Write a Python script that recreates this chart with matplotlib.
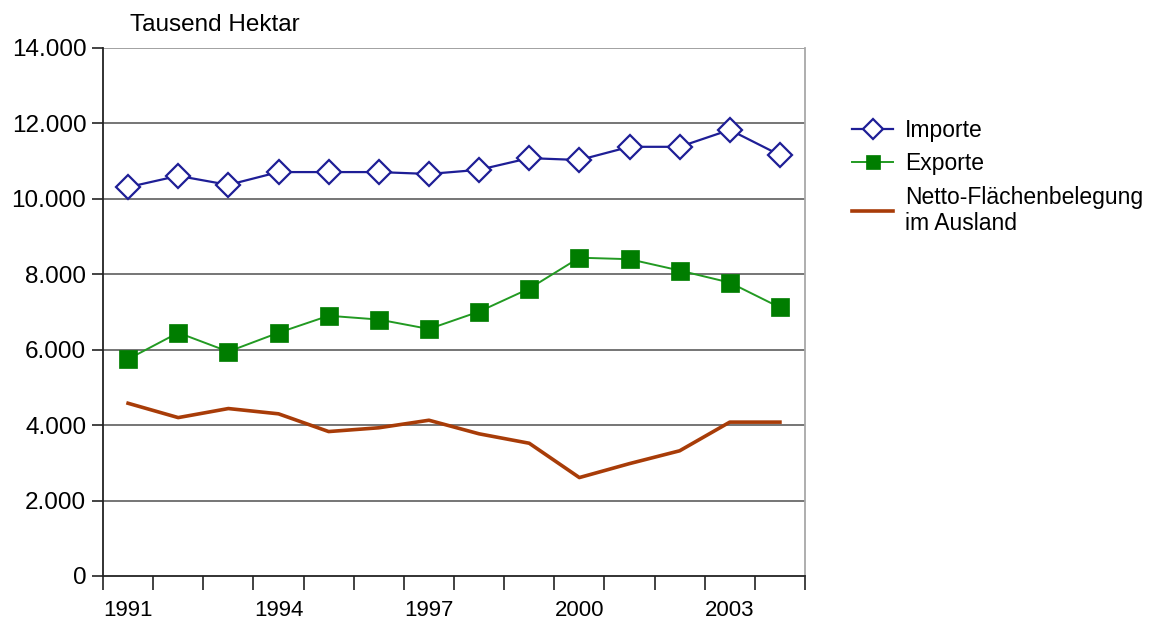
import matplotlib
matplotlib.use("Agg")
import matplotlib.pyplot as plt
import numpy as np

plt.rcParams['font.family'] = ['Liberation Sans', 'DejaVu Sans']

years = [1991, 1992, 1993, 1994, 1995, 1996, 1997, 1998, 1999, 2000, 2001, 2002, 2003, 2004]
importe = [10310, 10610, 10370, 10710, 10710, 10710, 10660, 10770, 11080, 11030, 11380, 11380, 11830, 11160]
exporte = [5750, 6450, 5950, 6450, 6900, 6800, 6550, 7010, 7620, 8440, 8400, 8100, 7780, 7120]
netto = [4580, 4200, 4440, 4300, 3830, 3930, 4130, 3770, 3520, 2610, 2980, 3320, 4080, 4080]
labels = ["Importe", "Exporte", "Netto-Flächenbelegung\nim Ausland"]
y_ticks = [0, 2000, 4000, 6000, 8000, 10000, 12000, 14000]
y_ticklabels = ["0", "2.000", "4.000", "6.000", "8.000", "10.000", "12.000", "14.000"]
x_labelled = [1991, 1994, 1997, 2000, 2003]

W, H = 1149, 623
fig = plt.figure(figsize=(W / 100, H / 100), dpi=100)
ax = fig.add_axes([103 / W, 1 - 576 / H, (805 - 103) / W, (576 - 48) / H])

x = np.arange(len(years))
ax.plot(x, importe, color='#1e1e96', lw=1.6, marker='D', ms=12.5, mfc='white',
        mec='#1e1e96', mew=1.6, label=labels[0], zorder=4)
ax.plot(x, exporte, color='#229a22', lw=1.4, marker='s', ms=13.5, mfc='#007d00',
        mec='#007d00', mew=0.5, label=labels[1], zorder=4)
ax.plot(x, netto, color='#a83c08', lw=2.6, label=labels[2], zorder=3)

ax.set_xlim(-0.5, len(years) - 0.5)
ax.set_ylim(0, 14000)

for v in y_ticks[1:-1]:
    ax.axhline(v, color='#6a6a6a', lw=1.3, zorder=1)
ax.axhline(14000, color='#9a9a9a', lw=1.3, zorder=1)

ax.set_yticks(y_ticks)
ax.set_yticklabels(y_ticklabels, fontsize=17.5)
ax.tick_params(axis='y', length=8, width=1.2, pad=4, color='#222222')

pos = [years.index(y) for y in x_labelled]
ax.set_xticks(pos)
ax.set_xticklabels([str(y) for y in x_labelled], fontsize=16)
ax.tick_params(axis='x', which='major', length=0, pad=17)
ax.set_xticks(np.arange(-0.5, len(years)), minor=True)
ax.tick_params(axis='x', which='minor', length=10, width=1.2, color='#222222')

ax.spines['top'].set_visible(False)
ax.spines['right'].set_color('#a8a8a8')
ax.spines['right'].set_linewidth(1.3)
ax.spines['left'].set_color('#222222')
ax.spines['left'].set_linewidth(1.3)
ax.spines['bottom'].set_color('#222222')
ax.spines['bottom'].set_linewidth(1.3)

fig.text(130 / W, 1 - 25 / H, "Tausend Hektar", fontsize=17.5, ha='left', va='center')

leg = ax.legend(loc='upper left', bbox_to_anchor=(852 / W, 1 - 119 / H),
                bbox_transform=fig.transFigure, frameon=False, fontsize=16.5,
                handlelength=1.8, handletextpad=0.5, labelspacing=0.45,
                borderpad=0, borderaxespad=0)
for h in leg.legend_handles:
    h.set_markersize(10)

fig.savefig("out.png", dpi=100)
